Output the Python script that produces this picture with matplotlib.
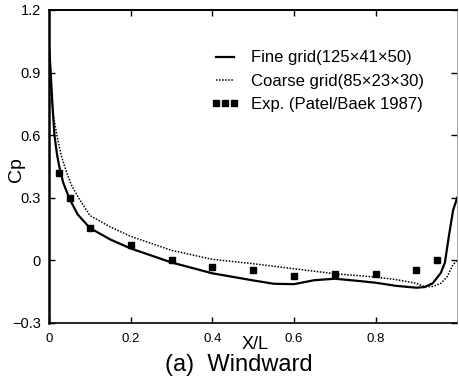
import matplotlib
matplotlib.use("Agg")
import matplotlib.pyplot as plt

plt.rcParams['font.family'] = ['Liberation Sans', 'DejaVu Sans']

# Fine grid (125x41x50)
fine_x = [0, 0.003, 0.008, 0.013, 0.02, 0.027, 0.035, 0.05, 0.07, 0.1, 0.15, 0.2, 0.3,
          0.4, 0.5, 0.55, 0.6, 0.65, 0.7, 0.75, 0.8, 0.85, 0.9, 0.92, 0.94, 0.96,
          0.97, 0.98, 0.99, 1.0]
fine_cp = [1.02, 0.93, 0.75, 0.6, 0.5, 0.43, 0.37, 0.295, 0.22, 0.155, 0.1, 0.057, -0.01,
           -0.062, -0.096, -0.112, -0.114, -0.095, -0.088, -0.097, -0.107, -0.122, -0.131,
           -0.128, -0.11, -0.06, -0.01, 0.12, 0.24, 0.30]

# Coarse grid (85x23x30)
coarse_x = [0, 0.005, 0.01, 0.019, 0.03, 0.043, 0.055, 0.072, 0.1, 0.15, 0.2, 0.3, 0.4,
            0.5, 0.6, 0.7, 0.8, 0.85, 0.9, 0.92, 0.94, 0.96, 0.975, 0.99, 1.0]
coarse_cp = [0.95, 0.82, 0.7, 0.6, 0.5, 0.42, 0.36, 0.30, 0.215, 0.16, 0.115, 0.048, 0.005,
             -0.016, -0.04, -0.064, -0.08, -0.092, -0.11, -0.126, -0.125, -0.11, -0.08,
             -0.02, 0.0]

# Experiment (Patel/Baek 1987)
exp_x = [0.025, 0.05, 0.1, 0.2, 0.3, 0.4, 0.5, 0.6, 0.7, 0.8, 0.9, 0.95]
exp_cp = [0.42, 0.30, 0.155, 0.072, 0.0, -0.03, -0.047, -0.075, -0.066, -0.067, -0.047, 0.0]

xticks = [0, 0.2, 0.4, 0.6, 0.8]
xtick_labels = ['0', '0.2', '0.4', '0.6', '0.8']
yticks = [-0.3, 0, 0.3, 0.6, 0.9, 1.2]
ytick_labels = ['\u22120.3', '0', '0.3', '0.6', '0.9', '1.2']

fig = plt.figure(figsize=(4.59, 3.82), dpi=100)
ax = fig.add_axes([0.107, 0.1545, 0.889, 0.8195])

ax.plot(fine_x, fine_cp, color='black', lw=1.6, label='Fine grid(125\u00d741\u00d750)')
ax.plot(coarse_x, coarse_cp, color='black', lw=1.1, linestyle=(0, (1, 1)),
        label='Coarse grid(85\u00d723\u00d730)')
ax.plot(exp_x, exp_cp, linestyle='none', marker='s', markersize=5, color='black',
        label='Exp. (Patel/Baek 1987)')

ax.set_xlim(0, 1.0)
ax.set_ylim(-0.3, 1.2)
ax.set_xticks(xticks)
ax.set_xticklabels(xtick_labels)
ax.set_yticks(yticks)
ax.set_yticklabels(ytick_labels)
ax.tick_params(direction='in', top=True, right=True, length=4, width=1)
ax.tick_params(axis='x', labelsize=9.5, pad=7)
ax.tick_params(axis='y', labelsize=10.5, pad=6)

ax.spines['left'].set_linewidth(1.8)
ax.spines['bottom'].set_linewidth(1.2)
ax.spines['top'].set_linewidth(1.4)
ax.spines['right'].set_linewidth(0.6)
ax.spines['right'].set_color('#999999')

ax.set_ylabel('Cp', fontsize=14)
ax.yaxis.set_label_coords(-0.06, 0.49)

fig.text(0.556, 0.097, 'X/L', fontsize=13, ha='center', va='center')
fig.text(0.521, 0.044, '(a)  Windward', fontsize=17, ha='center', va='center')

leg = ax.legend(loc='upper right', bbox_to_anchor=(0.935, 0.892), frameon=False,
                fontsize=12, handlelength=1.7, handletextpad=0.7, labelspacing=0.5,
                numpoints=3, borderaxespad=0)

fig.savefig('out.png', dpi=100)
